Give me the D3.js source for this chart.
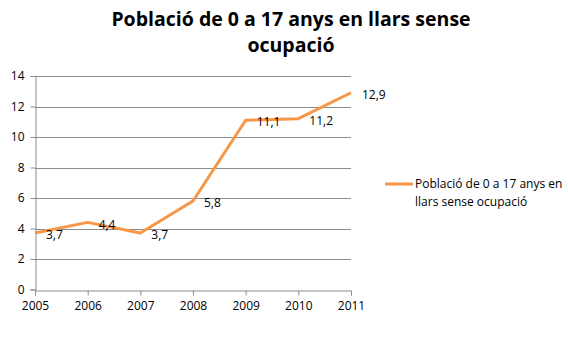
<!DOCTYPE html>
<html>
<head>
<meta charset="utf-8">
<script src="https://cdn.jsdelivr.net/npm/d3@7"></script>
<style>
  body { margin: 0; background: #fff; }
  text { font-family: "Open Sans", sans-serif; fill: #000; }
  .grid line { stroke: #8c8c8c; stroke-width: 1; }
  .axis path, .axis line { stroke: #8c8c8c; }
</style>
</head>
<body>
<svg id="chart" width="568" height="340"></svg>
<script>
// population 0-17 living in jobless households (%)
const years = [2005, 2006, 2007, 2008, 2009, 2010, 2011];
const values = [3.7, 4.4, 3.7, 5.8, 11.1, 11.2, 12.9];
const yTicks = [0, 2, 4, 6, 8, 10, 12, 14];
const titleLines = ["Població de 0 a 17 anys en llars sense", "ocupació"];
const legendLines = ["Població de 0 a 17 anys en", "llars sense ocupació"];

const svg = d3.select("#chart");

let x = d3.scaleLinear().domain([2005, 2011]).range([35, 351]);
let y = d3.scaleLinear().domain([0, 14]).range([289.5, 76]);

// title
svg.append("g").selectAll("text")
  .data(titleLines)
  .enter().append("text")
  .attr("x", 291)
  .attr("y", (d, i) => 26 + i * 26)
  .attr("text-anchor", "middle")
  .style("font-size", "19.5px")
  .style("font-weight", "700")
  .text(d => d);

// horizontal gridlines
svg.append("g").attr("class", "grid")
  .selectAll("line")
  .data(yTicks.filter(d => d > 0))
  .enter().append("line")
  .attr("x1", x(2005)).attr("x2", x(2011))
  .attr("y1", d => Math.round(y(d)) + 0.5)
  .attr("y2", d => Math.round(y(d)) + 0.5);

// y axis
let yAxis = d3.axisLeft(y).tickValues(yTicks).tickSize(5).tickPadding(6)
  .tickFormat(d3.format("d"));
svg.append("g").attr("class", "axis")
  .attr("transform", "translate(" + (x(2005) + 0.5) + ",0)")
  .call(yAxis)
  .call(g => g.selectAll("text").style("font-size", "12px"));

// x axis
let xAxis = d3.axisBottom(x).tickValues(years).tickSize(5).tickPadding(6)
  .tickFormat(d3.format("d"));
svg.append("g").attr("class", "axis")
  .attr("transform", "translate(0," + (Math.round(y(0)) + 0.5) + ")")
  .call(xAxis)
  .call(g => g.selectAll("text").style("font-size", "12px"));

// series line
let line = d3.line()
  .x((d, i) => x(years[i]))
  .y(d => y(d));

svg.append("path")
  .datum(values)
  .attr("fill", "none")
  .attr("stroke", "#f79646")
  .attr("stroke-width", 3)
  .attr("stroke-linejoin", "round")
  .attr("d", line);

// value labels, to the right of each point
const fmt = v => d3.format(".1f")(v).replace(".", ",");
svg.append("g").selectAll("text")
  .data(values)
  .enter().append("text")
  .attr("x", (d, i) => x(years[i]) + 11)
  .attr("y", d => y(d) + 2)
  .attr("dy", "0.35em")
  .style("font-size", "12px")
  .text(d => fmt(d));

// legend
let legend = svg.append("g").attr("transform", "translate(385,184)");
legend.append("line")
  .attr("x1", 0).attr("x2", 28)
  .attr("stroke", "#f79646").attr("stroke-width", 3);
legend.selectAll("text")
  .data(legendLines)
  .enter().append("text")
  .attr("x", 30)
  .attr("y", (d, i) => 4 + i * 18)
  .style("font-size", "12px")
  .text(d => d);
</script>
</body>
</html>
